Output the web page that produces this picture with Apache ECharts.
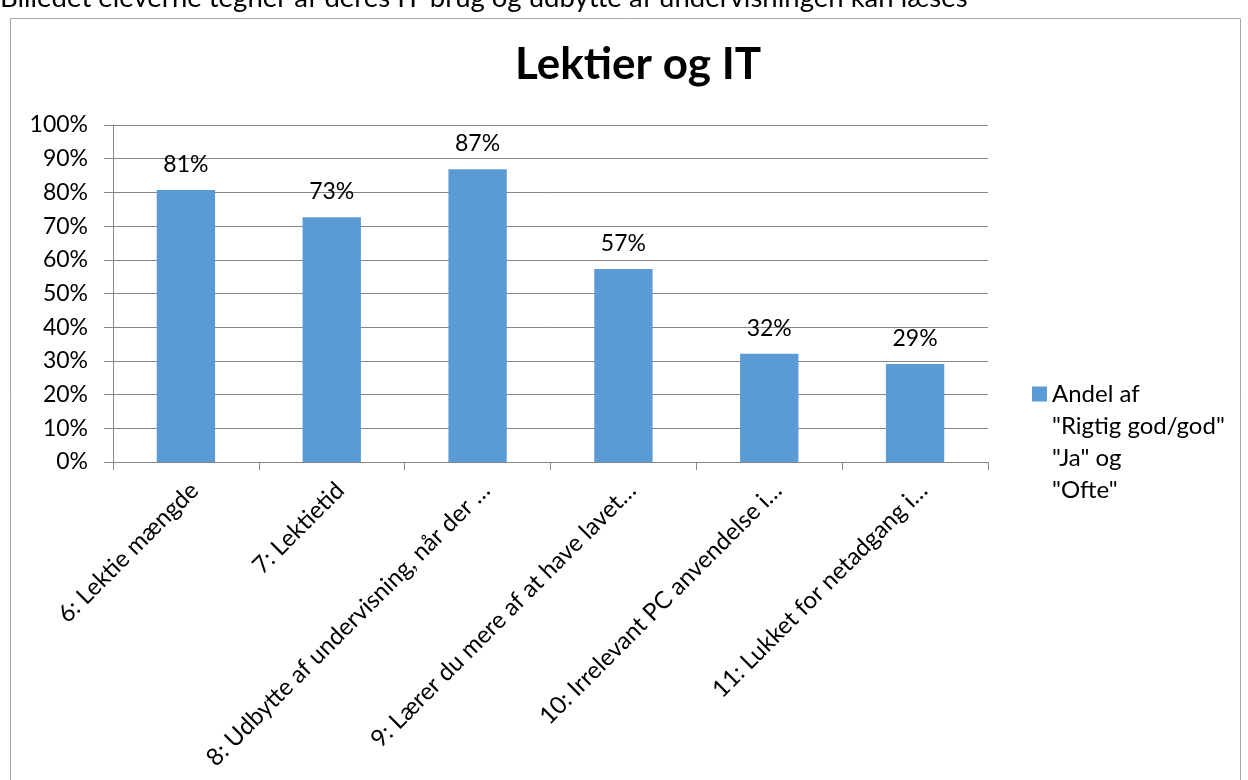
<!DOCTYPE html>
<html><head><meta charset="utf-8">
<script src="https://cdn.jsdelivr.net/npm/echarts@6/dist/echarts.min.js"></script>
<style>html,body{margin:0;padding:0;background:#fff}#c{width:1248px;height:780px}</style>
</head><body><div id="c"></div>
<script>
const captionText = 'Billedet eleverne tegner af deres IT-brug og udbytte af undervisningen kan læses';
const chartTitle = 'Lektier og IT';
const seriesName = 'Andel af\n"Rigtig god/god"\n"Ja" og\n"Ofte"';
const categories = [
  '6: Lektie mængde',
  '7: Lektietid',
  '8: Udbytte af undervisning, når der …',
  '9: Lærer du mere af at have lavet…',
  '10: Irrelevant PC anvendelse i…',
  '11: Lukket for netadgang i…'
];
const values = [80.7, 72.6, 86.9, 57.3, 32.1, 29.1];
const yMin = 0, yMax = 100, yStep = 10;

const FONT = 'Lato';
const chart = echarts.init(document.getElementById('c'), null, {renderer: 'canvas'});
chart.setOption({
  backgroundColor: '#fff',
  animation: false,
  graphic: [
    {type: 'rect', shape: {x: 10.5, y: 18.5, width: 1230, height: 800}, style: {fill: 'none', stroke: '#a6a6a6', lineWidth: 1}, z: -10},
    {type: 'text', x: 0, y: -2, style: {text: captionText, font: '27.5px ' + FONT, fill: '#000', verticalAlign: 'middle'}}
  ],
  title: {
    text: chartTitle, left: 510, top: 38,
    textStyle: {fontFamily: FONT, fontWeight: 'bold', fontSize: 44, color: '#000'}
  },
  legend: {
    orient: 'vertical', left: 1032, top: 378, padding: 0,
    icon: 'path://M0,8.5L15,8.5L15,23.5L0,23.5Z M0,0L0.01,0L0.01,0.01Z M0,128L0.01,128L0.01,127.99Z',
    itemWidth: 15, itemHeight: 128,
    textStyle: {fontFamily: FONT, fontSize: 24, color: '#000', lineHeight: 32}
  },
  grid: {left: 113, right: 260, top: 125, bottom: 318, containLabel: false},
  xAxis: {
    type: 'category', data: categories, boundaryGap: true,
    axisLine: {lineStyle: {color: '#868686'}},
    axisTick: {show: true, length: 8, lineStyle: {color: '#868686'}},
    axisLabel: {interval: 0, rotate: 45, margin: 16, verticalAlign: 'top', fontFamily: FONT, fontSize: 24, color: '#000'}
  },
  yAxis: {
    type: 'value', min: yMin, max: yMax, interval: yStep,
    axisLine: {show: true, lineStyle: {color: '#868686'}},
    axisTick: {show: true, length: 9, lineStyle: {color: '#868686'}},
    splitLine: {lineStyle: {color: '#868686'}},
    axisLabel: {margin: 25, fontFamily: FONT, fontSize: 23, color: '#000', formatter: v => v + '%'}
  },
  series: [{
    name: seriesName, type: 'bar', data: values, barWidth: '40%',
    itemStyle: {color: '#5B9BD5'},
    label: {show: true, position: 'top', distance: 14, fontFamily: FONT, fontSize: 23, color: '#000',
      formatter: p => Math.round(p.value) + '%'}
  }]
});
</script></body></html>
